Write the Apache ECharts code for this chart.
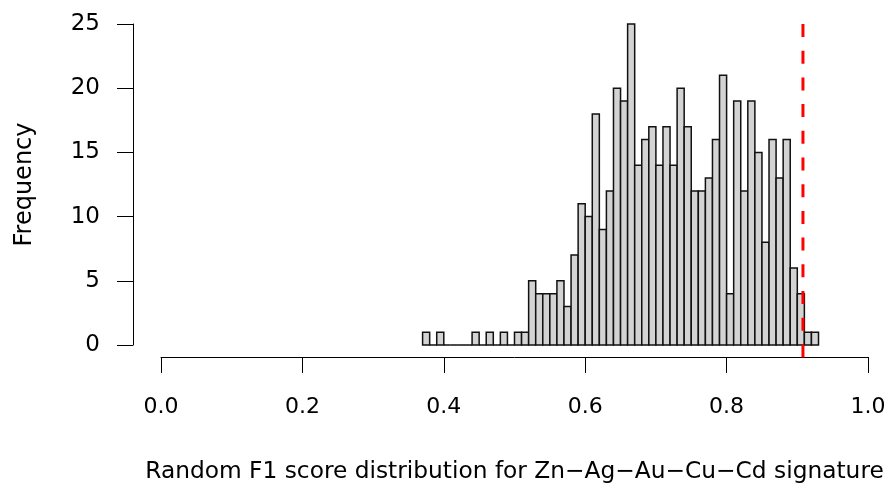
<!DOCTYPE html>
<html>
<head>
<meta charset="utf-8">
<script src="https://cdn.jsdelivr.net/npm/echarts@6/dist/echarts.min.js"></script>
<style>
  html, body { margin: 0; padding: 0; background: #fff; }
  #chart { width: 888px; height: 484px; }
</style>
</head>
<body>
<div id="chart"></div>
<script>
// histogram bins (left edges, width 0.01) and counts
const binLefts = [
  0.37, 0.38, 0.39, 0.40, 0.41, 0.42, 0.43, 0.44, 0.45, 0.46, 0.47, 0.48, 0.49, 0.50,
  0.51, 0.52, 0.53, 0.54, 0.55, 0.56, 0.57, 0.58, 0.59, 0.60, 0.61, 0.62, 0.63, 0.64,
  0.65, 0.66, 0.67, 0.68, 0.69, 0.70, 0.71, 0.72, 0.73, 0.74, 0.75, 0.76, 0.77, 0.78,
  0.79, 0.80, 0.81, 0.82, 0.83, 0.84, 0.85, 0.86, 0.87, 0.88, 0.89, 0.90, 0.91, 0.92
];
const counts = [
  1, 0, 1, 0, 0, 0, 0, 1, 0, 1, 0, 1, 0, 1,
  1, 5, 4, 4, 4, 5, 3, 7, 11, 10, 18, 9, 12, 20,
  19, 25, 14, 16, 17, 14, 17, 14, 20, 17, 12, 12, 13, 16,
  21, 4, 19, 12, 19, 15, 8, 16, 13, 16, 6, 4, 1, 1
];
const binWidth = 0.01;
const observedF1 = 0.908;
const xTicks = ['0.0', '0.2', '0.4', '0.6', '0.8', '1.0'];
const xTitle = 'Random F1 score distribution for Zn\u2212Ag\u2212Au\u2212Cu\u2212Cd signature';
const yTitle = 'Frequency';

const font = 'DejaVu Sans, sans-serif';
const chart = echarts.init(document.getElementById('chart'));

const histData = binLefts.map((x, i) => [x, x + binWidth, counts[i]]);

const option = {
  animation: false,
  grid: {
    left: 161, right: 20, top: 24, bottom: 139,
    containLabel: false,
    outerBoundsMode: 'none'
  },
  xAxis: {
    type: 'value',
    min: 0,
    max: 1,
    interval: 0.2,
    offset: 12,
    name: xTitle,
    nameLocation: 'middle',
    nameGap: 103,
    nameTextStyle: { fontFamily: font, fontSize: 23.3, color: '#000' },
    axisLine: { show: true, onZero: false, lineStyle: { color: '#000', width: 1 } },
    axisTick: { show: true, length: 16, lineStyle: { color: '#000' } },
    axisLabel: {
      margin: 39,
      fontFamily: font,
      fontSize: 22,
      color: '#000',
      formatter: v => xTicks[Math.round(v / 0.2)]
    },
    splitLine: { show: false }
  },
  yAxis: {
    type: 'value',
    min: 0,
    max: 25,
    interval: 5,
    offset: 28,
    name: yTitle,
    nameLocation: 'middle',
    nameGap: 96,
    nameRotate: 90,
    nameTextStyle: { fontFamily: font, fontSize: 24, color: '#000' },
    axisLine: { show: true, onZero: false, lineStyle: { color: '#000', width: 1 } },
    axisTick: { show: true, length: 16, lineStyle: { color: '#000' } },
    axisLabel: { margin: 33, fontFamily: font, fontSize: 23, color: '#000' },
    splitLine: { show: false }
  },
  series: [
    {
      type: 'custom',
      clip: false,
      data: histData,
      encode: { x: [0, 1], y: 2 },
      renderItem: (params, api) => {
        const p0 = api.coord([api.value(0), api.value(2)]);
        const p1 = api.coord([api.value(1), 0]);
        return {
          type: 'rect',
          shape: { x: p0[0], y: p0[1], width: p1[0] - p0[0], height: p1[1] - p0[1] },
          style: { fill: '#d3d3d3', stroke: '#111', lineWidth: 1.5 }
        };
      }
    },
    {
      type: 'line',
      clip: false,
      symbol: 'none',
      silent: true,
      data: [[observedF1, 25], [observedF1, -1]],
      lineStyle: { color: '#ff0000', width: 3, type: [13, 13.7] },
      z: 5
    }
  ]
};

chart.setOption(option);
</script>
</body>
</html>
